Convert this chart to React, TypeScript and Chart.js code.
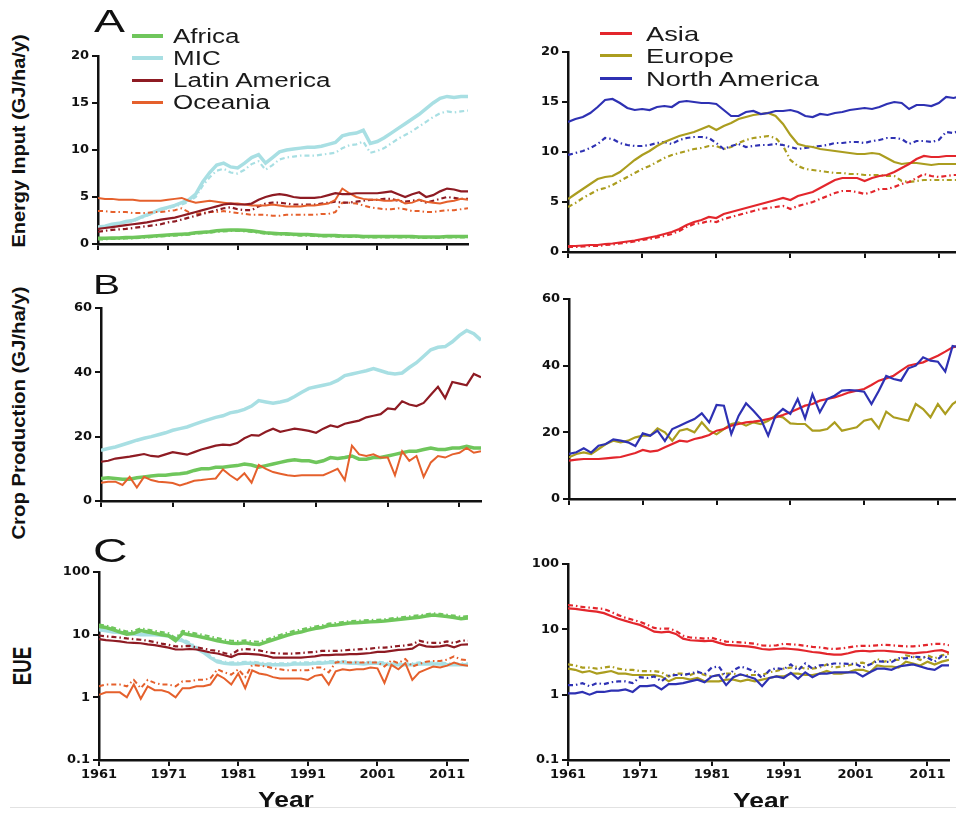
import React, { useEffect, useRef } from "react";
import { Chart, registerables } from "chart.js";
Chart.register(...registerables);

// ---------- DATA ----------
const years = [
  1961, 1962, 1963, 1964, 1965, 1966, 1967, 1968, 1969, 1970,
  1971, 1972, 1973, 1974, 1975, 1976, 1977, 1978, 1979, 1980,
  1981, 1982, 1983, 1984, 1985, 1986, 1987, 1988, 1989, 1990,
  1991, 1992, 1993, 1994, 1995, 1996, 1997, 1998, 1999, 2000,
  2001, 2002, 2003, 2004, 2005, 2006, 2007, 2008, 2009, 2010,
  2011, 2012, 2013, 2014,
];
const xTickYears = [1961, 1971, 1981, 1991, 2001, 2011];
const energyTicks = [0, 5, 10, 15, 20];
const cropTicks = [0, 20, 40, 60];
const eueTicks = [0.1, 1, 10, 100];

const leftRegions = ["Africa", "MIC", "Latin America", "Oceania"];
const rightRegions = ["Asia", "Europe", "North America"];

// Panel A: energy input (GJ/ha/y), solid and dash-dot variants
const africaE = [0.6,0.6,0.65,0.65,0.7,0.7,0.75,0.8,0.85,0.9,0.95,1.0,1.05,1.1,1.2,1.25,1.3,1.4,1.45,1.5,1.5,1.45,1.4,1.3,1.2,1.15,1.1,1.1,1.05,1.0,1.0,0.95,0.9,0.9,0.9,0.85,0.85,0.85,0.8,0.8,0.8,0.8,0.8,0.8,0.8,0.8,0.75,0.75,0.75,0.75,0.8,0.8,0.8,0.8];
const africaEd = [0.5,0.5,0.55,0.55,0.6,0.6,0.65,0.7,0.75,0.8,0.85,0.9,0.95,1.0,1.1,1.15,1.2,1.3,1.35,1.4,1.4,1.35,1.3,1.2,1.1,1.05,1.0,1.0,0.95,0.9,0.9,0.85,0.8,0.8,0.8,0.75,0.75,0.75,0.7,0.7,0.7,0.7,0.7,0.7,0.7,0.7,0.65,0.65,0.65,0.65,0.7,0.7,0.7,0.7];
const micE = [1.8,1.9,2.1,2.2,2.4,2.5,2.8,3.1,3.4,3.7,3.9,4.1,4.4,4.7,5.3,6.6,7.6,8.4,8.6,8.2,8.1,8.6,9.2,9.5,8.6,9.2,9.8,10.0,10.1,10.2,10.3,10.3,10.4,10.6,10.8,11.5,11.7,11.8,12.1,10.7,10.9,11.3,11.8,12.3,12.8,13.3,13.8,14.4,15.0,15.5,15.7,15.6,15.7,15.7];
const micEd = [1.7,1.8,2.0,2.1,2.3,2.4,2.7,3.0,3.3,3.6,3.8,4.0,4.2,4.5,5.0,6.2,7.1,7.8,8.0,7.6,7.5,7.9,8.5,8.8,7.9,8.4,9.0,9.2,9.3,9.4,9.4,9.4,9.5,9.6,9.7,10.2,10.5,10.6,10.9,9.7,9.9,10.2,10.7,11.2,11.6,12.0,12.5,13.0,13.5,13.9,14.1,14.0,14.1,14.2];
const latamE = [1.6,1.7,1.8,1.9,2.0,2.1,2.2,2.3,2.45,2.6,2.7,2.8,3.0,3.2,3.4,3.6,3.8,4.0,4.2,4.3,4.2,4.2,4.3,4.7,5.0,5.2,5.3,5.2,5.0,4.9,4.9,4.9,5.0,5.2,5.4,5.3,5.3,5.4,5.4,5.4,5.4,5.5,5.6,5.3,5.0,5.3,5.5,5.0,5.2,5.6,5.9,5.8,5.6,5.6];
const latamEd = [1.3,1.4,1.5,1.55,1.6,1.7,1.8,1.9,2.0,2.1,2.3,2.4,2.6,2.8,3.0,3.2,3.4,3.6,3.8,3.9,3.7,3.6,3.6,4.0,4.3,4.4,4.4,4.3,4.2,4.2,4.2,4.2,4.3,4.4,4.5,4.4,4.4,4.5,4.6,4.7,4.7,4.8,4.8,4.6,4.5,4.6,4.7,4.4,4.6,4.8,5.0,4.9,4.8,4.8];
const oceaniaE = [4.9,4.8,4.8,4.7,4.7,4.7,4.6,4.6,4.6,4.6,4.7,4.8,4.9,4.6,4.4,4.5,4.6,4.5,4.4,4.3,4.3,4.2,4.1,4.1,4.1,4.2,4.1,4.0,4.0,4.0,4.1,4.1,4.2,4.3,4.7,5.9,5.4,5.0,4.8,4.7,4.7,4.6,4.6,4.7,4.3,4.4,4.7,4.5,4.4,4.3,4.5,4.6,4.8,4.7];
const oceaniaEd = [3.5,3.5,3.4,3.4,3.4,3.3,3.3,3.3,3.4,3.4,3.5,3.6,3.8,3.4,3.2,3.3,3.4,3.4,3.5,3.4,3.3,3.2,3.1,3.1,3.1,3.0,3.0,3.1,3.1,3.1,3.1,3.1,3.2,3.2,3.4,4.4,4.4,4.3,4.1,3.9,3.8,3.7,3.7,3.8,3.7,3.5,3.5,3.4,3.4,3.5,3.6,3.6,3.7,3.8];
const asiaE = [0.6,0.6,0.65,0.7,0.7,0.8,0.85,0.95,1.05,1.15,1.3,1.45,1.6,1.8,2.0,2.3,2.7,3.0,3.2,3.5,3.4,3.8,4.0,4.2,4.4,4.6,4.8,5.0,5.2,5.4,5.2,5.6,5.8,6.0,6.4,6.8,7.2,7.4,7.4,7.4,7.1,7.4,7.6,7.7,8.0,8.4,8.8,9.3,9.6,9.5,9.5,9.6,9.6,9.6];
const asiaEd = [0.5,0.5,0.55,0.6,0.6,0.7,0.75,0.85,0.95,1.05,1.2,1.3,1.45,1.6,1.8,2.1,2.5,2.8,2.9,3.1,3.0,3.3,3.5,3.7,3.9,4.1,4.3,4.4,4.5,4.6,4.3,4.6,4.8,5.0,5.3,5.6,5.9,6.1,6.1,6.0,5.8,6.0,6.3,6.3,6.5,6.8,7.0,7.4,7.8,7.6,7.5,7.6,7.7,7.7];
const europeE = [5.3,5.8,6.3,6.8,7.3,7.5,7.6,8.0,8.6,9.2,9.7,10.1,10.6,11.0,11.3,11.6,11.8,12.0,12.3,12.6,12.2,12.6,12.9,13.3,13.5,13.7,13.8,13.9,13.6,12.8,11.7,10.8,10.6,10.5,10.3,10.2,10.1,10.0,9.9,9.8,9.8,9.9,9.8,9.4,9.0,8.8,8.9,8.9,8.8,8.7,8.8,8.8,8.8,8.8];
const europeEd = [4.5,4.9,5.4,5.8,6.2,6.4,6.7,7.1,7.5,7.9,8.3,8.6,9.0,9.4,9.7,9.9,10.1,10.3,10.4,10.6,10.6,10.3,10.5,10.9,11.2,11.4,11.5,11.6,11.4,10.6,9.2,8.6,8.3,8.2,8.1,8.0,7.9,7.9,7.8,7.8,7.7,7.7,7.7,7.6,7.6,7.1,7.0,7.1,7.2,7.2,7.2,7.2,7.2,7.2];
const naE = [13.0,13.3,13.5,13.9,14.5,15.2,15.3,14.9,14.4,14.2,14.3,14.2,14.5,14.6,14.5,15.0,15.1,15.0,14.9,14.9,14.8,14.2,13.6,13.6,14.0,14.1,13.8,13.9,14.1,14.1,14.2,14.0,13.6,13.5,13.8,13.7,13.9,14.0,14.2,14.3,14.4,14.3,14.5,14.8,15.0,14.9,14.3,14.7,14.7,14.6,14.9,15.5,15.4,15.6];
const naEd = [9.7,9.9,10.1,10.4,10.8,11.4,11.3,10.9,10.7,10.6,10.6,10.7,10.9,11.0,10.8,11.2,11.4,11.5,11.5,11.4,10.9,10.3,10.6,10.8,10.5,10.6,10.7,10.7,10.8,10.7,10.5,10.3,10.4,10.5,10.6,10.7,10.9,10.9,11.0,11.0,10.9,11.1,11.2,11.4,11.4,11.3,10.8,11.1,11.1,11.0,11.2,12.0,11.9,12.2];

// Panel B: crop production (GJ/ha/y)
const africaP = [7.0,7.2,7.0,6.8,6.8,7.2,7.5,7.8,8.0,8.0,8.3,8.5,8.8,9.5,10.0,10.0,10.5,10.5,10.8,11.0,11.5,11.2,10.5,11.0,11.5,12.0,12.5,12.8,12.5,12.5,12.0,12.5,13.5,13.2,13.5,14.0,13.0,13.0,13.5,13.5,14.0,14.5,15.0,15.5,15.5,16.0,16.5,16.0,16.0,16.5,16.5,17.0,16.5,16.5];
const micP = [15.8,16.3,16.8,17.5,18.2,18.9,19.5,20.0,20.6,21.2,22.0,22.5,23.0,23.8,24.6,25.3,26.0,26.5,27.4,27.8,28.5,29.5,31.2,30.8,30.4,30.8,31.3,32.5,33.8,35.0,35.5,36.0,36.5,37.5,39.0,39.5,40.0,40.5,41.2,40.5,39.8,39.5,39.8,41.5,43.0,45.0,47.0,47.8,48.0,49.5,51.5,53.0,52.0,50.0];
const latamP = [12.2,12.5,13.2,13.5,13.8,14.2,14.6,14.0,13.8,14.5,15.2,14.8,14.4,15.2,16.0,16.6,17.2,17.5,17.4,18.0,19.5,20.5,20.3,21.5,22.5,21.5,22.0,22.5,22.2,21.8,21.2,22.5,23.5,23.0,24.0,24.5,25.0,26.0,26.5,27.0,28.8,28.5,31.0,30.0,29.5,30.5,33.0,35.5,32.0,37.0,36.5,36.0,39.5,38.5];
const oceaniaP = [5.7,6.0,6.0,5.0,7.5,4.2,7.5,6.5,6.0,5.8,5.6,4.8,5.5,6.3,6.5,6.8,7.0,9.8,8.0,6.5,8.6,5.7,11.2,10.0,9.0,8.5,8.0,7.8,8.0,8.0,8.0,8.0,9.0,10.0,6.5,17.2,14.5,14.0,14.5,13.5,13.5,8.0,15.5,12.5,14.0,7.5,12.0,14.0,13.5,14.5,15.0,16.5,15.0,15.5];
const asiaP = [11.5,11.8,12.0,12.0,12.0,12.2,12.4,12.6,13.2,13.8,14.7,14.2,14.5,15.5,16.5,17.5,17.2,18.0,18.5,19.2,20.5,21.0,22.0,22.5,23.0,23.2,23.5,24.0,24.5,25.2,26.0,27.0,28.0,28.5,29.5,30.0,30.5,31.2,32.0,32.5,33.0,34.2,35.5,36.2,37.0,38.5,40.0,40.5,41.0,42.0,43.0,44.2,45.5,46.0];
const europeP = [12.5,13.5,14.0,13.5,15.0,16.5,17.5,17.0,17.5,18.5,19.0,19.0,21.2,20.0,17.5,20.5,21.0,20.0,23.0,20.5,19.4,21.0,22.5,23.0,22.0,23.0,22.5,23.5,25.0,24.5,22.7,22.5,22.5,20.5,20.5,21.0,23.0,20.5,21.0,21.5,23.5,24.0,21.2,26.2,24.5,24.0,23.5,28.5,27.0,24.5,28.5,25.5,28.5,30.0];
const naP = [13.5,14.0,15.2,13.9,16.0,16.5,17.9,17.5,17.0,15.9,19.7,19.0,20.5,17.4,21.0,22.0,23.0,24.0,25.7,23.0,28.2,28.0,19.5,25.0,28.7,26.5,24.0,19.0,25.0,27.0,25.5,30.0,24.2,31.4,26.0,30.0,31.0,32.5,32.7,32.5,32.2,28.5,32.5,36.9,36.0,35.5,39.2,40.0,42.5,41.5,41.2,38.2,45.9,45.5];

// Panel C: energy use efficiency (log scale)
const africaU = [13.5,13.0,12.0,11.0,10.2,10.5,11.6,11.0,10.5,10.0,9.6,8.0,10.5,10.0,9.5,9.0,8.5,8.0,7.6,7.3,7.2,7.4,7.1,7.0,7.6,8.3,9.0,9.8,10.5,11.0,11.8,12.5,13.0,14.0,14.2,14.8,15.3,15.5,15.8,16.0,16.2,16.5,17.0,17.5,18.0,18.5,19.0,19.8,20.5,20.0,19.5,18.8,18.0,18.5];
const africaUd = [14.5,14.0,13.0,12.0,11.2,11.5,12.6,12.0,11.5,11.0,10.5,8.8,11.5,11.0,10.4,9.9,9.3,8.8,8.3,8.0,7.9,8.1,7.8,7.7,8.3,9.1,9.9,10.7,11.5,12.0,12.8,13.5,14.0,15.0,15.3,15.9,16.4,16.6,16.9,17.1,17.3,17.6,18.2,18.7,19.2,19.8,20.3,21.2,21.9,21.4,20.8,20.1,19.3,19.8];
const micU = [12.0,11.5,11.0,10.8,10.5,10.2,10.0,10.0,10.0,9.8,9.5,8.5,8.0,7.0,6.0,5.2,4.3,3.7,3.5,3.4,3.4,3.5,3.5,3.4,3.3,3.3,3.3,3.3,3.4,3.4,3.4,3.5,3.5,3.6,3.6,3.6,3.5,3.5,3.4,3.5,3.5,3.4,3.3,3.3,3.3,3.3,3.4,3.4,3.4,3.4,3.3,3.3,3.3,3.3];
const micUd = [12.6,12.1,11.6,11.3,11.0,10.7,10.5,10.5,10.5,10.3,10.0,9.0,8.5,7.5,6.4,5.5,4.6,3.9,3.7,3.6,3.6,3.7,3.7,3.6,3.5,3.5,3.5,3.5,3.6,3.6,3.6,3.7,3.7,3.8,3.8,3.8,3.7,3.7,3.6,3.7,3.7,3.6,3.5,3.5,3.5,3.5,3.6,3.6,3.6,3.6,3.5,3.5,3.5,3.5];
const latamU = [8.5,8.2,8.0,7.8,7.5,7.4,7.3,7.0,6.8,6.5,6.2,5.8,5.8,5.9,5.8,5.5,5.2,5.0,4.7,4.4,4.9,5.0,4.9,4.8,4.6,4.3,4.3,4.3,4.3,4.3,4.4,4.5,4.7,4.7,4.8,4.8,4.9,4.9,5.0,5.1,5.3,5.3,5.5,5.7,5.8,6.0,7.0,6.5,6.4,6.5,6.8,6.3,6.9,7.0];
const latamUd = [9.7,9.4,9.2,9.0,8.7,8.5,8.3,8.0,7.6,7.2,6.9,6.5,6.5,6.6,6.3,6.0,5.7,5.5,5.1,4.8,5.7,5.9,5.8,5.6,5.3,5.1,5.0,5.0,5.0,5.1,5.2,5.3,5.5,5.5,5.5,5.6,5.7,5.8,5.9,6.0,6.2,6.2,6.4,6.6,6.7,7.0,8.0,7.5,7.4,7.4,7.8,7.3,8.1,8.0];
const oceaniaU = [1.1,1.2,1.2,1.2,1.0,1.6,0.95,1.5,1.3,1.3,1.2,1.0,1.4,1.4,1.5,1.5,1.6,2.3,2.0,1.6,2.4,1.4,2.7,2.4,2.3,2.1,2.0,2.0,2.0,2.0,1.9,2.2,2.3,1.6,2.6,2.8,2.7,2.8,2.8,3.0,2.9,1.7,3.3,2.8,3.5,1.9,2.5,2.8,3.1,3.0,3.2,3.6,3.3,3.2];
const oceaniaUd = [1.5,1.6,1.6,1.6,1.5,1.9,1.4,1.9,1.7,1.6,1.6,1.5,1.8,1.8,1.9,1.9,2.0,2.8,2.5,2.3,2.8,2.1,3.3,3.2,3.1,2.9,2.8,2.7,2.7,2.7,2.7,3.0,3.0,2.5,3.6,3.7,3.6,3.6,3.6,3.6,3.6,3.1,3.9,3.5,4.1,3.1,3.4,3.7,3.8,3.8,4.0,4.5,4.0,3.9];
const asiaU = [21.0,20.5,19.8,19.2,18.7,17.7,16.0,14.5,13.5,12.5,11.7,10.5,9.2,9.0,9.2,8.5,7.2,6.8,6.7,6.6,6.7,6.2,5.8,5.7,5.6,5.5,5.3,5.0,4.9,5.0,5.1,5.0,4.9,4.7,4.5,4.4,4.2,4.1,4.1,4.3,4.6,4.7,4.6,4.7,4.7,4.6,4.5,4.4,4.3,4.4,4.5,4.7,4.8,4.4];
const asiaUd = [23.5,23.0,22.0,21.5,21.0,20.5,18.5,16.5,15.0,14.0,13.0,11.8,10.5,10.2,10.3,9.5,8.0,7.5,7.4,7.2,7.4,6.9,6.5,6.4,6.3,6.2,6.0,5.7,5.6,5.7,6.0,5.9,5.8,5.6,5.4,5.3,5.1,5.0,5.1,5.3,5.5,5.6,5.6,5.7,5.8,5.7,5.6,5.5,5.5,5.6,5.8,6.0,6.0,5.7];
const europeU = [2.5,2.4,2.2,2.3,2.1,2.2,2.3,2.1,2.1,2.0,2.0,2.0,2.0,1.9,1.6,1.8,1.8,1.7,1.8,1.6,1.6,1.6,1.7,1.7,1.6,1.7,1.6,1.7,1.8,1.9,1.9,2.1,2.1,2.0,2.0,2.1,2.3,2.1,2.1,2.2,2.4,2.4,2.2,2.8,2.7,2.7,2.6,3.2,3.0,2.8,3.2,2.9,3.2,3.4];
const europeUd = [2.9,2.8,2.6,2.6,2.5,2.6,2.7,2.5,2.4,2.4,2.3,2.3,2.3,2.2,1.9,2.1,2.1,2.0,2.2,2.0,1.9,2.0,2.1,2.1,2.0,2.0,2.0,2.0,2.2,2.3,2.5,2.6,2.7,2.5,2.5,2.6,2.9,2.6,2.7,2.8,3.0,3.1,2.8,3.5,3.2,3.4,3.4,4.0,3.8,3.4,4.0,3.6,4.0,4.2];
const naU = [1.05,1.05,1.1,1.0,1.1,1.1,1.15,1.15,1.2,1.1,1.35,1.35,1.4,1.2,1.45,1.45,1.5,1.6,1.7,1.55,1.9,2.0,1.4,1.85,2.05,1.9,1.75,1.35,1.8,1.9,1.8,2.15,1.75,2.2,1.85,2.1,2.1,2.2,2.2,2.2,2.2,1.9,2.2,2.5,2.5,2.4,2.7,2.8,2.9,2.7,2.5,2.4,2.8,2.8];
const naUd = [1.4,1.4,1.5,1.35,1.5,1.45,1.55,1.6,1.6,1.5,1.85,1.8,1.9,1.6,1.95,2.0,2.0,2.1,2.25,2.05,2.6,2.7,1.85,2.35,2.7,2.5,2.25,1.8,2.35,2.55,2.45,2.9,2.35,3.0,2.5,2.8,2.85,3.0,3.0,2.95,2.95,2.6,2.9,3.25,3.2,3.15,3.6,3.6,3.8,3.75,3.7,3.2,3.9,3.7];

// ---------- STYLE ----------
const COLORS: Record<string, string> = {
  Africa: "#6fc65c",
  MIC: "#a8dfe3",
  "Latin America": "#8e1b23",
  Oceania: "#e5602c",
  Asia: "#e3262c",
  Europe: "#ab9d1f",
  "North America": "#2e31b3",
};
const WIDTHS: Record<string, number> = {
  Africa: 3.5, MIC: 3.5, "Latin America": 2.2, Oceania: 2, Asia: 2.2, Europe: 2.2, "North America": 2.2,
};
const TEXT_FONT = '"Liberation Sans", Arial, Helvetica, sans-serif';
const TICK_FONT = { family: '"DejaVu Sans", sans-serif', size: 13, weight: "bold" as const };

type DS = { name: string; values: number[]; dashed?: boolean };
type Box = { x: number; y: number; w: number; h: number };

function Panel(props: {
  box: Box;
  series: DS[];
  log?: boolean;
  yMin: number;
  yMax: number;
  yTicks: number[];
  showX: boolean;
}) {
  const { box, series, log, yMin, yMax, yTicks, showX } = props;
  const ref = useRef<HTMLCanvasElement>(null);
  const padL = 4, yW = 42, padT = 12, padR = 20, padB = 4;
  const xH = showX ? 26 : 8;
  const cw = padL + yW + box.w + padR;
  const ch = padT + box.h + xH + padB;

  useEffect(() => {
    const chart = new Chart(ref.current as HTMLCanvasElement, {
      type: "line",
      data: {
        datasets: series.map((s) => ({
          label: s.name + (s.dashed ? " (alt)" : ""),
          data: years.map((yr, i) => ({ x: yr, y: s.values[i] })),
          borderColor: COLORS[s.name],
          borderWidth: s.dashed ? Math.min(WIDTHS[s.name], 2.2) : WIDTHS[s.name],
          borderDash: s.dashed ? [5, 3, 1.5, 3] : [],
          pointRadius: 0,
          fill: false,
          tension: 0,
        })),
      },
      options: {
        animation: false,
        responsive: false,
        events: [],
        layout: { padding: { left: padL, top: padT, right: padR, bottom: padB } },
        plugins: { legend: { display: false }, tooltip: { enabled: false } },
        scales: {
          x: {
            type: "linear",
            min: 1961,
            max: 2014,
            afterBuildTicks: (s: any) => {
              s.ticks = xTickYears.map((v) => ({ value: v }));
            },
            afterFit: (s: any) => {
              s.height = xH;
            },
            ticks: {
              display: showX,
              autoSkip: false,
              maxRotation: 0,
              padding: 1,
              color: "#111",
              font: TICK_FONT,
              callback: (v: any) => String(v),
            },
            grid: {
              display: true,
              drawOnChartArea: false,
              drawTicks: true,
              tickLength: 6,
              color: "#111",
              lineWidth: 2,
            },
            border: { display: true, color: "#111", width: 2.5 },
          },
          y: {
            type: log ? "logarithmic" : "linear",
            min: yMin,
            max: yMax,
            afterBuildTicks: (s: any) => {
              s.ticks = yTicks.map((v) => ({ value: v }));
            },
            afterFit: (s: any) => {
              s.width = yW;
            },
            ticks: {
              autoSkip: false,
              padding: 3,
              color: "#111",
              font: TICK_FONT,
              callback: (v: any) => String(v),
            },
            grid: {
              display: true,
              drawOnChartArea: false,
              drawTicks: true,
              tickLength: 6,
              color: "#111",
              lineWidth: 2,
            },
            border: { display: true, color: "#111", width: 2.5 },
          },
        },
      } as any,
    });
    return () => chart.destroy();
  }, []);

  return (
    <canvas
      ref={ref}
      width={cw}
      height={ch}
      style={{ position: "absolute", left: box.x - yW - padL, top: box.y - padT, width: cw, height: ch }}
    />
  );
}

function Legend(props: { names: string[]; swX: number; swW: number; textX: number; rows: number[]; size: number }) {
  const { names, swX, swW, textX, rows, size } = props;
  return (
    <>
      {names.map((n, i) => {
        const lw = WIDTHS[n] > 3 ? 4 : 3;
        return (
          <React.Fragment key={n}>
            <div
              style={{ position: "absolute", left: swX, top: rows[i] - lw / 2, width: swW, height: lw, background: COLORS[n] }}
            />
            <div
              style={{
                position: "absolute",
                left: textX,
                top: rows[i] - size * 0.5885,
                fontFamily: TEXT_FONT,
                fontSize: size,
                lineHeight: `${size * 1.2}px`,
                color: "#1a1a1a",
                whiteSpace: "nowrap",
                transform: "scaleX(1.3)",
                transformOrigin: "left center",
              }}
            >
              {n}
            </div>
          </React.Fragment>
        );
      })}
    </>
  );
}

function VTitle(props: { text: string; cx: number; cy: number; size: number; stretch: number; thick?: number }) {
  const { text, cx, cy, size, stretch, thick } = props;
  return (
    <div
      style={{
        position: "absolute",
        left: cx,
        top: cy,
        transform: `translate(-50%,-50%) rotate(-90deg) scale(${stretch},${thick || 1})`,
        fontFamily: TEXT_FONT,
        fontWeight: "bold",
        fontSize: size,
        lineHeight: `${size}px`,
        whiteSpace: "nowrap",
        color: "#111",
      }}
    >
      {text}
    </div>
  );
}

function Letter(props: { ch: string; x: number; capTop: number; size: number }) {
  const { ch, x, capTop, size } = props;
  return (
    <div
      style={{
        position: "absolute",
        left: x,
        top: capTop - size * 0.1305,
        fontFamily: TEXT_FONT,
        fontSize: size,
        lineHeight: `${size}px`,
        color: "#111",
        transform: "scaleX(1.45)",
        transformOrigin: "left top",
      }}
    >
      {ch}
    </div>
  );
}

function YearLabel(props: { cx: number; capTop: number }) {
  const size = 22;
  return (
    <div
      style={{
        position: "absolute",
        left: props.cx,
        top: props.capTop - size * 0.1305,
        fontFamily: TEXT_FONT,
        fontWeight: "bold",
        fontSize: size,
        lineHeight: `${size}px`,
        color: "#111",
        transform: "translateX(-50%) scaleX(1.2)",
        whiteSpace: "nowrap",
      }}
    >
      Year
    </div>
  );
}

export default function App() {
  const aLeft: DS[] = [
    { name: "Latin America", values: latamE },
    { name: "Oceania", values: oceaniaE },
    { name: "Latin America", values: latamEd, dashed: true },
    { name: "Oceania", values: oceaniaEd, dashed: true },
    { name: "MIC", values: micE },
    { name: "MIC", values: micEd, dashed: true },
    { name: "Africa", values: africaE },
    { name: "Africa", values: africaEd, dashed: true },
  ];
  const aRight: DS[] = [
    { name: "North America", values: naE },
    { name: "Asia", values: asiaE },
    { name: "Europe", values: europeE },
    { name: "North America", values: naEd, dashed: true },
    { name: "Asia", values: asiaEd, dashed: true },
    { name: "Europe", values: europeEd, dashed: true },
  ];
  const bLeft: DS[] = [
    { name: "Latin America", values: latamP },
    { name: "Oceania", values: oceaniaP },
    { name: "Africa", values: africaP },
    { name: "MIC", values: micP },
  ];
  const bRight: DS[] = [
    { name: "North America", values: naP },
    { name: "Asia", values: asiaP },
    { name: "Europe", values: europeP },
  ];
  const cLeft: DS[] = [
    { name: "Latin America", values: latamU },
    { name: "Latin America", values: latamUd, dashed: true },
    { name: "Oceania", values: oceaniaU },
    { name: "Oceania", values: oceaniaUd, dashed: true },
    { name: "Africa", values: africaUd, dashed: true },
    { name: "Africa", values: africaU },
    { name: "MIC", values: micU },
    { name: "MIC", values: micUd, dashed: true },
  ];
  const cRight: DS[] = [
    { name: "Asia", values: asiaUd, dashed: true },
    { name: "Asia", values: asiaU },
    { name: "North America", values: naUd, dashed: true },
    { name: "North America", values: naU },
    { name: "Europe", values: europeUd, dashed: true },
    { name: "Europe", values: europeU },
  ];

  return (
    <div
      style={{
        position: "fixed",
        left: 0,
        top: 0,
        width: 956,
        height: 814,
        overflow: "hidden",
        background: "#fff",
      }}
    >
      <Panel box={{ x: 98, y: 56, w: 370, h: 188 }} series={aLeft} yMin={0} yMax={20} yTicks={energyTicks} showX={false} />
      <Panel box={{ x: 568, y: 52, w: 393, h: 200 }} series={aRight} yMin={0} yMax={20} yTicks={energyTicks} showX={false} />
      <Panel box={{ x: 101, y: 308, w: 380, h: 193 }} series={bLeft} yMin={0} yMax={60} yTicks={cropTicks} showX={false} />
      <Panel box={{ x: 569, y: 299, w: 391, h: 200 }} series={bRight} yMin={0} yMax={60} yTicks={cropTicks} showX={false} />
      <Panel box={{ x: 99, y: 572, w: 369, h: 188 }} series={cLeft} log yMin={0.1} yMax={100} yTicks={eueTicks} showX={true} />
      <Panel box={{ x: 568, y: 564, w: 381, h: 196 }} series={cRight} log yMin={0.1} yMax={100} yTicks={eueTicks} showX={true} />

      <Legend names={leftRegions} swX={132} swW={31} textX={173} rows={[36, 58, 80, 102]} size={20} />
      <Legend names={rightRegions} swX={600} swW={32} textX={646} rows={[33, 55, 78]} size={21} />

      <Letter ch="A" x={94} capTop={9} size={32} />
      <Letter ch="B" x={93} capTop={275} size={28} />
      <Letter ch="C" x={93} capTop={538} size={33} />

      <VTitle text="Energy Input (GJ/ha/y)" cx={19} cy={141} size={18} stretch={1.11} />
      <VTitle text="Crop Production (GJ/ha/y)" cx={19} cy={413} size={18} stretch={1.13} />
      <VTitle text="EUE" cx={22} cy={666} size={26} stretch={0.72} />

      <YearLabel cx={286} capTop={792} />
      <YearLabel cx={761} capTop={793} />

      <div style={{ position: "absolute", left: 10, top: 807, width: 946, height: 1, background: "#e2e2e2" }} />
    </div>
  );
}
